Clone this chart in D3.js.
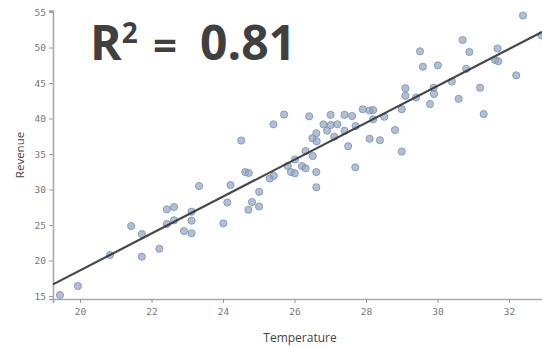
<!DOCTYPE html>
<html>
<head>
<meta charset="utf-8">
<script src="https://cdn.jsdelivr.net/npm/d3@7"></script>
<style>
  html, body { margin: 0; padding: 0; background: #fff; }
  svg { display: block; }
</style>
</head>
<body>
<div id="chart"></div>
<script>
// Data
const temperature = [19.44,19.94,20.84,21.43,21.73,21.73,22.22,22.43,22.63,22.43,22.63,22.91,23.12,23.12,23.12,23.33,24.01,24.12,24.21,24.51,24.62,24.72,24.71,24.81,25.01,25.01,25.31,25.42,25.41,25.71,25.81,25.90,26.01,26.01,26.21,26.31,26.31,26.51,26.61,26.61,26.50,26.61,26.62,26.41,27.01,27.40,27.61,26.81,27.01,27.20,26.91,27.11,27.40,27.50,27.70,27.71,27.91,28.10,28.20,28.10,28.39,28.20,28.51,28.81,29.00,29.10,29.10,29.00,29.40,29.51,29.59,29.79,29.89,29.90,30.01,30.40,30.59,30.70,30.80,30.89,31.19,31.29,31.61,31.70,31.68,32.20,32.39,32.91];
const revenue = [15.14,16.41,20.77,24.86,23.73,20.54,21.66,27.21,27.54,25.14,25.66,24.15,26.87,25.61,23.83,30.49,25.24,28.17,30.63,36.90,32.46,32.32,27.15,28.24,29.68,27.61,31.55,31.93,39.18,40.56,33.31,32.46,32.28,34.23,33.31,32.99,35.42,34.72,32.46,30.32,37.23,37.92,36.79,40.31,40.52,40.52,40.35,39.18,39.08,39.18,38.28,37.44,38.28,36.10,33.13,38.94,41.30,41.13,41.20,37.15,36.94,39.89,40.25,38.38,35.35,44.27,43.20,41.31,42.96,49.46,47.30,42.04,44.34,43.45,47.49,45.21,42.77,51.06,47.00,49.37,44.34,40.63,48.24,48.06,49.86,46.08,54.51,51.72];
const xTicks = [20, 22, 24, 26, 28, 30, 32];
const yTicks = [15, 20, 25, 30, 35, 40, 45, 50, 55];
const fitSlope = 2.60;
const fitIntercept = -33.4;
const rSquaredLabel = "0.81";
const xTitle = "Temperature";
const yTitle = "Revenue";

const W = 542, H = 346;
const svg = d3.select("#chart").append("svg").attr("width", W).attr("height", H);

const x = d3.scaleLinear().domain([19.245, 32.95]).range([53, 543]);
const y = d3.scaleLinear().domain([14.58, 55.2]).range([299, 10.6]);

const tickFont = "'DejaVu Sans Mono', monospace";
const labelFont = "'Open Sans', 'Noto Sans', sans-serif";

// X axis
const gx = svg.append("g").attr("transform", `translate(0,${y.range()[0]})`)
  .call(d3.axisBottom(x).tickValues(xTicks).tickSize(4).tickPadding(5).tickFormat(d3.format("d")));
// Y axis
const gy = svg.append("g").attr("transform", `translate(${x.range()[0]},0)`)
  .call(d3.axisLeft(y).tickValues(yTicks).tickSize(4).tickPadding(3).tickFormat(d3.format("d")));

[gx, gy].forEach(g => {
  g.select(".domain").attr("stroke", "#aaa").attr("stroke-width", 1.6);
  g.selectAll(".tick line").attr("stroke", "#999").attr("stroke-width", 1);
  g.selectAll(".tick text").attr("fill", "#777").style("font-family", tickFont).style("font-size", "9.5px");
});

// Points
svg.append("g").selectAll("circle")
  .data(temperature.map((t, i) => [t, revenue[i]]))
  .join("circle")
  .attr("cx", d => x(d[0]))
  .attr("cy", d => y(d[1]))
  .attr("r", 3.6)
  .attr("fill", "#8ea4c0")
  .attr("fill-opacity", 0.7)
  .attr("stroke", "#7890b0")
  .attr("stroke-width", 0.8);

// Regression line
const x0 = x.domain()[0], x1 = x.domain()[1];
svg.append("line")
  .attr("x1", x(x0)).attr("y1", y(fitSlope * x0 + fitIntercept))
  .attr("x2", x(x1)).attr("y2", y(fitSlope * x1 + fitIntercept))
  .attr("stroke", "#333").attr("stroke-width", 2.2).attr("stroke-opacity", 0.9);

// Axis titles
svg.append("text")
  .attr("x", 300).attr("y", 342)
  .attr("text-anchor", "middle")
  .style("font-family", labelFont).style("font-size", "12px")
  .attr("fill", "#444")
  .text(xTitle);

svg.append("text")
  .attr("transform", "translate(24,155) rotate(-90)")
  .attr("text-anchor", "middle")
  .style("font-family", labelFont).style("font-size", "11.5px")
  .attr("fill", "#444")
  .text(yTitle);

// R squared annotation
const t = svg.append("text")
  .attr("x", 90).attr("y", 60)
  .style("font-family", labelFont).style("font-weight", "bold").style("font-size", "48px")
  .attr("fill", "#404040");
t.append("tspan").text("R");
t.append("tspan").attr("dy", -17).style("font-size", "28px").text("2");
t.append("tspan").attr("x", 153).attr("dy", 17).style("font-size", "42px").text("=");
t.append("tspan").attr("x", 200).text(rSquaredLabel);
</script>
</body>
</html>
